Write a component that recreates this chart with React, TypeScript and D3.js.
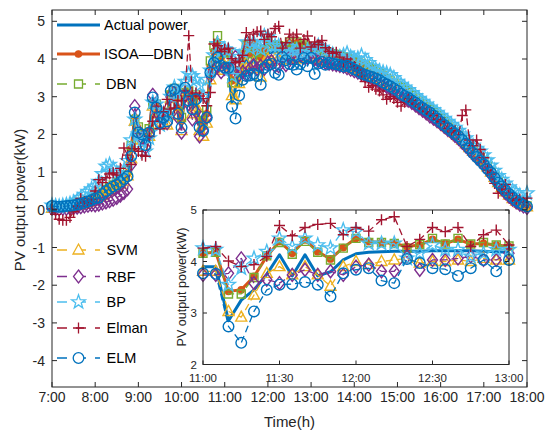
import React from "react";
import * as d3 from "d3";

// 5-minute samples from 7:00 to 18:00 (133 points)
const START_HOUR = 7;
const STEP_MIN = 5;

const ACTUAL = [
  0.05, 0.06, 0.07, 0.08, 0.08, 0.10, 0.12, 0.14, 0.16, 0.19, 0.22, 0.26, 0.30,
  0.35, 0.40, 0.46, 0.52, 0.58, 0.64, 0.70, 0.78, 0.88, 1.45, 2.50,
  2.05, 1.95, 1.75, 2.05, 2.95, 2.70, 2.35, 2.45, 2.40, 3.15, 3.20, 2.60,
  2.25, 3.20, 3.00, 2.70, 2.95, 2.20, 2.05, 2.45, 3.65, 3.95, 4.10, 3.85,
  3.90, 3.90, 2.85, 3.25, 3.45, 3.75, 4.13, 3.72, 4.13, 3.72, 3.80, 4.03,
  4.15, 4.18, 4.19, 4.20, 4.20, 4.20, 4.21, 4.21, 4.21, 4.21, 4.20, 4.19, 4.18,
  4.15, 4.12, 4.10, 4.07, 4.05, 4.02, 4.00, 3.98, 3.95, 3.92, 3.88, 3.85,
  3.80, 3.76, 3.72, 3.68, 3.62, 3.56, 3.50, 3.44, 3.38, 3.32, 3.26, 3.20,
  3.14, 3.08, 3.02, 2.95, 2.88, 2.80, 2.72, 2.65, 2.58, 2.50, 2.43, 2.33,
  2.25, 2.16, 2.07, 1.98, 1.88, 1.78, 1.68, 1.58, 1.49, 1.41, 1.33, 1.25,
  1.10, 0.97, 0.83, 0.68, 0.56, 0.46, 0.37, 0.29, 0.22, 0.16, 0.11, 0.08,
];

const ISOA_DBN = [
  0.06, 0.07, 0.08, 0.09, 0.10, 0.12, 0.14, 0.16, 0.18, 0.21, 0.25, 0.29, 0.33,
  0.38, 0.44, 0.50, 0.56, 0.62, 0.69, 0.76, 0.85, 0.98, 1.62, 2.45,
  2.12, 1.98, 1.82, 2.10, 2.88, 2.75, 2.42, 2.50, 2.48, 3.10, 3.18, 2.70,
  2.35, 3.15, 3.05, 2.80, 3.00, 2.35, 2.20, 2.55, 3.80, 4.20, 4.45, 4.05,
  4.16, 4.18, 3.42, 3.45, 3.71, 4.10, 4.39, 4.16, 4.42, 4.19, 4.05, 4.27,
  4.45, 4.39, 4.37, 4.35, 4.29, 4.32, 4.43, 4.35, 4.43, 4.34, 4.35, 4.32, 4.29,
  4.27, 4.24, 4.22, 4.18, 4.15, 4.12, 4.10, 4.08, 4.05, 4.01, 3.98, 3.94,
  3.90, 3.86, 3.81, 3.76, 3.71, 3.65, 3.58, 3.52, 3.46, 3.40, 3.33, 3.27,
  3.21, 3.15, 3.08, 3.01, 2.94, 2.86, 2.78, 2.71, 2.63, 2.55, 2.47, 2.40,
  2.31, 2.22, 2.13, 2.04, 1.94, 1.84, 1.73, 1.63, 1.54, 1.45, 1.36, 1.28,
  1.14, 1.00, 0.86, 0.72, 0.60, 0.49, 0.40, 0.31, 0.24, 0.18, 0.13, 0.09,
];

const DBN = [
  0.07, 0.08, 0.09, 0.10, 0.11, 0.13, 0.15, 0.17, 0.20, 0.23, 0.27, 0.31, 0.36,
  0.41, 0.47, 0.54, 0.60, 0.66, 0.73, 0.80, 0.90, 1.05, 1.70, 2.40,
  2.20, 2.02, 1.90, 2.15, 2.80, 2.80, 2.50, 2.55, 2.58, 3.05, 3.22, 2.80,
  2.45, 3.10, 3.15, 2.90, 3.05, 2.50, 2.35, 2.65, 3.95, 4.35, 4.62, 4.15,
  4.16, 4.18, 3.37, 3.37, 3.69, 4.11, 4.37, 4.14, 4.39, 4.18, 4.03, 4.26,
  4.45, 4.37, 4.37, 4.35, 4.26, 4.33, 4.45, 4.34, 4.45, 4.34, 4.37, 4.32, 4.30,
  4.30, 4.27, 4.25, 4.20, 4.18, 4.14, 4.12, 4.10, 4.06, 4.03, 3.99, 3.95,
  3.92, 3.88, 3.84, 3.78, 3.73, 3.67, 3.61, 3.55, 3.48, 3.42, 3.36, 3.30,
  3.24, 3.17, 3.11, 3.04, 2.97, 2.89, 2.81, 2.73, 2.66, 2.58, 2.50, 2.42,
  2.34, 2.25, 2.16, 2.07, 1.97, 1.87, 1.77, 1.66, 1.56, 1.47, 1.38, 1.30,
  1.16, 1.02, 0.88, 0.74, 0.62, 0.51, 0.41, 0.33, 0.25, 0.19, 0.14, 0.10,
];

const SVM = [
  0.04, 0.05, 0.06, 0.06, 0.07, 0.09, 0.11, 0.12, 0.14, 0.17, 0.20, 0.24, 0.28,
  0.33, 0.38, 0.44, 0.50, 0.56, 0.62, 0.68, 0.76, 0.90, 1.35, 2.35,
  2.00, 1.85, 1.70, 1.95, 2.75, 2.55, 2.25, 2.30, 2.25, 2.95, 3.05, 2.50,
  2.10, 3.00, 2.85, 2.55, 2.75, 2.10, 1.95, 2.30, 3.45, 3.75, 3.90, 3.70,
  3.81, 3.81, 3.03, 2.92, 3.35, 3.77, 3.90, 3.74, 3.90, 3.74, 3.52, 3.90,
  4.00, 3.94, 4.00, 4.03, 4.06, 3.97, 4.00, 4.00, 4.03, 4.00, 4.06, 4.03, 4.03,
  4.01, 3.98, 3.96, 3.93, 3.91, 3.88, 3.86, 3.84, 3.81, 3.79, 3.76, 3.72,
  3.69, 3.65, 3.61, 3.57, 3.53, 3.48, 3.42, 3.37, 3.31, 3.25, 3.20, 3.14,
  3.08, 3.02, 2.97, 2.91, 2.84, 2.77, 2.70, 2.63, 2.56, 2.49, 2.42, 2.35,
  2.27, 2.19, 2.11, 2.03, 1.94, 1.85, 1.75, 1.65, 1.55, 1.46, 1.37, 1.28,
  1.14, 1.00, 0.86, 0.72, 0.59, 0.48, 0.39, 0.30, 0.23, 0.17, 0.12, 0.08,
];

const RBF = [
  0.03, 0.02, 0.02, 0.03, 0.03, 0.04, 0.05, 0.06, 0.07, 0.09, 0.11, 0.13, 0.12,
  0.14, 0.17, 0.20, 0.23, 0.27, 0.32, 0.38, 0.45, 0.55, 1.20, 2.75,
  2.10, 1.90, 1.65, 2.00, 3.05, 2.60, 2.30, 2.40, 2.30, 3.00, 3.10, 2.45,
  2.05, 3.05, 2.80, 2.40, 2.60, 1.95, 2.10, 2.45, 3.55, 3.70, 3.80, 3.65,
  3.74, 3.74, 3.77, 4.06, 3.58, 3.65, 3.58, 3.74, 3.84, 3.74, 3.81, 3.74,
  3.90, 3.94, 3.81, 3.81, 4.10, 3.84, 4.03, 4.03, 4.06, 4.10, 4.03, 4.03, 4.16,
  4.00, 3.95, 3.93, 3.90, 3.88, 3.86, 3.84, 3.82, 3.80, 3.76, 3.72, 3.68,
  3.64, 3.60, 3.56, 3.52, 3.47, 3.42, 3.37, 3.31, 3.26, 3.20, 3.14, 3.08,
  3.02, 2.96, 2.90, 2.84, 2.77, 2.70, 2.63, 2.56, 2.48, 2.42, 2.35, 2.28,
  2.20, 2.12, 2.05, 1.96, 1.88, 1.78, 1.68, 1.58, 1.48, 1.38, 1.29, 1.20,
  1.06, 0.93, 0.80, 0.67, 0.55, 0.44, 0.35, 0.27, 0.20, 0.14, 0.09, 0.05,
];

const BP = [
  0.12, 0.10, 0.09, 0.11, 0.13, 0.16, 0.20, 0.25, 0.32, 0.40, 0.48, 0.55, 0.62,
  0.75, 0.95, 1.15, 1.20, 1.10, 0.98, 0.92, 1.05, 1.30, 1.85, 2.40,
  2.00, 1.80, 1.55, 1.90, 2.85, 2.80, 2.25, 2.55, 2.50, 3.00, 3.25, 2.90,
  3.25, 3.40, 3.60, 3.55, 3.45, 3.30, 3.00, 3.45, 3.70, 4.10, 4.40, 4.20,
  4.26, 4.23, 3.55, 3.87, 4.06, 4.19, 4.45, 4.29, 4.45, 4.32, 4.26, 4.61,
  4.58, 4.35, 4.35, 4.35, 4.06, 4.16, 4.32, 4.23, 4.23, 4.10, 4.16, 4.23, 4.23,
  4.28, 4.35, 4.30, 4.22, 4.15, 4.12, 4.08, 4.05, 4.10, 4.15, 4.05, 4.00,
  4.02, 4.09, 3.98, 3.90, 3.80, 3.72, 3.68, 3.65, 3.62, 3.58, 3.50, 3.40,
  3.32, 3.25, 3.18, 3.10, 3.02, 2.95, 2.87, 2.80, 2.72, 2.65, 2.58, 2.50,
  2.42, 2.34, 2.26, 2.18, 2.10, 2.00, 1.90, 1.80, 1.70, 1.62, 1.55, 1.45,
  1.32, 1.18, 1.04, 0.90, 0.80, 0.70, 0.60, 0.50, 0.45, 0.38, 0.30, 0.44,
];

const ELMAN = [
  0.02, -0.12, -0.25, -0.28, -0.28, -0.20, -0.05, 0.10, 0.30, 0.22, 0.18, 0.28, 0.50,
  0.80, 0.72, 0.85, 0.95, 0.98, 0.92, 1.10, 1.64, 1.45, 1.20, 1.62,
  1.55, 1.45, 1.42, 1.95, 2.35, 2.75, 2.15, 2.60, 2.93, 2.67, 2.70, 2.90,
  2.89, 3.15, 4.62, 3.02, 3.10, 3.02, 2.95, 2.76, 3.11, 4.40, 4.35, 4.20,
  4.26, 4.29, 4.01, 3.90, 3.94, 4.10, 4.70, 4.50, 4.66, 4.72, 4.74, 4.52,
  4.66, 4.59, 4.81, 4.87, 4.29, 4.43, 4.66, 4.58, 4.66, 4.29, 4.52, 4.61, 4.32,
  4.45, 4.38, 4.49, 4.30, 4.20, 4.15, 4.18, 4.05, 3.92, 4.00, 3.90, 3.80,
  3.70, 3.55, 3.40, 3.25, 3.30, 3.20, 3.15, 3.05, 2.93, 3.00, 2.95, 2.85,
  2.75, 2.85, 2.95, 2.90, 2.80, 2.72, 2.68, 2.60, 2.55, 2.50, 2.40, 2.35,
  2.30, 2.15, 2.05, 2.10, 2.00, 2.50, 2.65, 1.85, 1.70, 1.85, 1.60, 1.38,
  1.05, 0.95, 0.70, 0.44, 0.55, 0.67, 0.45, 0.30, 0.25, 0.28, 0.20, 0.31,
];

const ELM = [
  0.10, 0.09, 0.08, 0.09, 0.10, 0.11, 0.12, 0.14, 0.16, 0.19, 0.22, 0.26, 0.30,
  0.32, 0.42, 0.49, 0.56, 0.62, 0.67, 0.74, 0.82, 0.89, 1.42, 2.58,
  2.05, 2.00, 1.71, 2.05, 2.98, 2.71, 2.30, 2.45, 2.35, 3.15, 3.20, 2.55,
  2.18, 3.24, 2.90, 2.67, 2.93, 2.19, 2.10, 2.45, 3.64, 3.90, 4.04, 3.82,
  3.77, 3.76, 2.74, 2.42, 3.03, 3.45, 3.55, 3.56, 3.60, 3.55, 3.32, 3.77,
  3.84, 3.87, 3.63, 3.58, 4.05, 3.97, 3.87, 3.85, 3.72, 3.87, 4.03, 3.81, 4.03,
  3.60, 3.88, 3.92, 3.85, 3.90, 3.88, 3.86, 3.84, 3.80, 3.82, 3.78, 3.72,
  3.68, 3.62, 3.58, 3.55, 3.52, 3.48, 3.44, 3.38, 3.33, 3.28, 3.22, 3.16,
  3.08, 3.02, 2.97, 2.90, 2.84, 2.77, 2.70, 2.64, 2.58, 2.50, 2.42, 2.33,
  2.25, 2.17, 2.09, 2.02, 1.95, 1.85, 1.75, 1.63, 1.51, 1.40, 1.30, 1.20,
  1.08, 0.98, 0.85, 0.72, 0.62, 0.52, 0.42, 0.33, 0.25, 0.18, 0.13, 0.09,
];

const X_TICKS = [7, 8, 9, 10, 11, 12, 13, 14, 15, 16, 17, 18];
const Y_TICKS = [-4, -3, -2, -1, 0, 1, 2, 3, 4, 5];
const INSET_X_TICKS = [11, 11.5, 12, 12.5, 13];
const INSET_Y_TICKS = [2, 3, 4, 5];

type Mk = "none" | "dot" | "square" | "triangle" | "diamond" | "star" | "plus" | "circle";
type S = { name: string; values: number[]; color: string; width: number; dash: string | null; marker: Mk };

const SERIES: S[] = [
  { name: "Actual power", values: ACTUAL, color: "#0072BD", width: 3, dash: null, marker: "none" },
  { name: "ISOA\u2014DBN", values: ISOA_DBN, color: "#D95319", width: 3, dash: null, marker: "dot" },
  { name: "DBN", values: DBN, color: "#77AC30", width: 1.3, dash: "7,4", marker: "square" },
  { name: "SVM", values: SVM, color: "#EDB120", width: 1.3, dash: "7,4", marker: "triangle" },
  { name: "RBF", values: RBF, color: "#7E2F8E", width: 1.3, dash: "7,4", marker: "diamond" },
  { name: "BP", values: BP, color: "#4DBEEE", width: 1.3, dash: "7,4", marker: "star" },
  { name: "Elman", values: ELMAN, color: "#A2142F", width: 1.3, dash: "7,4", marker: "plus" },
  { name: "ELM", values: ELM, color: "#0072BD", width: 1.3, dash: "7,4", marker: "circle" },
];

const FONT = "'Liberation Sans', Arial, Helvetica, sans-serif";
const AX = "#262626";
const hourOf = (i: number) => START_HOUR + (i * STEP_MIN) / 60;
const fmtTime = (h: number) => `${Math.floor(h)}:${String(Math.round((h % 1) * 60)).padStart(2, "0")}`;

function markerPath(type: Mk, x: number, y: number): string {
  switch (type) {
    case "circle":
      return `M${x + 5.3},${y}A5.3,5.3 0 1,1 ${x - 5.3},${y}A5.3,5.3 0 1,1 ${x + 5.3},${y}Z`;
    case "dot":
      return `M${x + 3.2},${y}A3.2,3.2 0 1,1 ${x - 3.2},${y}A3.2,3.2 0 1,1 ${x + 3.2},${y}Z`;
    case "square":
      return `M${x - 4},${y - 4}h8v8h-8Z`;
    case "triangle":
      return `M${x},${y - 6}L${x + 5.5},${y + 4}L${x - 5.5},${y + 4}Z`;
    case "diamond":
      return `M${x},${y - 6.5}L${x + 5},${y}L${x},${y + 6.5}L${x - 5},${y}Z`;
    case "plus":
      return `M${x - 5.5},${y}H${x + 5.5}M${x},${y - 5.5}V${y + 5.5}`;
    case "star": {
      const pts: string[] = [];
      for (let k = 0; k < 10; k++) {
        const r = k % 2 === 0 ? 7.2 : 2.9;
        const a = -Math.PI / 2 + (k * Math.PI) / 5;
        pts.push(`${(x + r * Math.cos(a)).toFixed(2)},${(y + r * Math.sin(a)).toFixed(2)}`);
      }
      return `M${pts.join("L")}Z`;
    }
    default:
      return "";
  }
}

const markerFill = (s: S) => (s.marker === "dot" ? s.color : "none");

function Plot({ x, y, from, to }: { x: d3.ScaleLinear<number, number>; y: d3.ScaleLinear<number, number>; from: number; to: number }) {
  return (
    <g>
      {SERIES.map((s) => {
        const idx = d3.range(from, to + 1);
        const line = d3.line<number>().x((i) => x(hourOf(i))).y((i) => y(s.values[i]));
        const mk = idx.map((i) => markerPath(s.marker, x(hourOf(i)), y(s.values[i]))).join("");
        return (
          <g key={s.name}>
            <path d={line(idx) || ""} fill="none" stroke={s.color} strokeWidth={s.width}
              strokeDasharray={s.dash || undefined} strokeLinejoin="round" />
            {mk && <path d={mk} fill={markerFill(s)} stroke={s.color} strokeWidth={1.4} />}
          </g>
        );
      })}
    </g>
  );
}

function LegendRow({ s, x, y, tx }: { s: S; x: number; y: number; tx: number }) {
  return (
    <g>
      <line x1={x} x2={x + 43} y1={y} y2={y} stroke={s.color} strokeWidth={s.width}
        strokeDasharray={s.dash ? "10,9" : undefined} />
      {s.marker !== "none" && (
        <path d={markerPath(s.marker, x + 21.5, y)} fill={s.marker === "dot" ? s.color : "white"}
          stroke={s.color} strokeWidth={1.3} />
      )}
      <text x={tx} y={y} dy="0.36em" fontSize={14.5} fill="#000" fontFamily={FONT}>{s.name}</text>
    </g>
  );
}

export default function App() {
  const W = 545, H = 432;
  const x = d3.scaleLinear().domain([7, 18]).range([52, 527]);
  const y = d3.scaleLinear().domain([-4.7, 5.3]).range([387, 10]);
  const ix = d3.scaleLinear().domain([11, 13]).range([203, 509]);
  const iy = d3.scaleLinear().domain([2, 5]).range([364.5, 210]);
  const n = ACTUAL.length;
  const i0 = Math.round((11 - START_HOUR) * 60 / STEP_MIN);
  const i1 = Math.round((13 - START_HOUR) * 60 / STEP_MIN);

  const upperRows = [25, 54, 84];
  const lowerRows = [250, 276.5, 302, 328, 358];

  return (
    <svg width={W} height={H} style={{ position: "absolute", left: 0, top: 0, background: "#fff" }} fontFamily={FONT}>
      <rect width={W} height={H} fill="#fff" />
      {/* main plot */}
      <Plot x={x} y={y} from={0} to={n - 1} />
      <rect x={52} y={10} width={475} height={377} fill="none" stroke={AX} strokeWidth={1} />
      {X_TICKS.map((t) => (
        <g key={"xt" + t}>
          <line x1={x(t)} x2={x(t)} y1={387} y2={382} stroke={AX} />
          <line x1={x(t)} x2={x(t)} y1={10} y2={15} stroke={AX} />
          <text x={x(t)} y={402} textAnchor="middle" fontSize={14} fill={AX}>{fmtTime(t)}</text>
        </g>
      ))}
      {Y_TICKS.map((t) => (
        <g key={"yt" + t}>
          <line x1={52} x2={57} y1={y(t)} y2={y(t)} stroke={AX} />
          <line x1={527} x2={522} y1={y(t)} y2={y(t)} stroke={AX} />
          <text x={45} y={y(t)} dy="0.36em" textAnchor="end" fontSize={14} fill={AX}>{t}</text>
        </g>
      ))}
      <text x={289.5} y={427} textAnchor="middle" fontSize={15} fill={AX}>Time(h)</text>
      <text transform="translate(25,200) rotate(-90)" textAnchor="middle" fontSize={15} fill={AX}>PV output power(kW)</text>

      {/* legends */}
      {SERIES.slice(0, 3).map((s, k) => (
        <LegendRow key={s.name} s={s} x={57} y={upperRows[k]} tx={k === 2 ? 106 : 104} />
      ))}
      {SERIES.slice(3).map((s, k) => (
        <LegendRow key={s.name} s={s} x={57} y={lowerRows[k]} tx={106.5} />
      ))}

      {/* inset */}
      <rect x={203} y={210} width={306} height={154.5} fill="#fff" />
      <Plot x={ix} y={iy} from={i0} to={i1} />
      <rect x={203} y={210} width={306} height={154.5} fill="none" stroke={AX} strokeWidth={1} />
      {INSET_X_TICKS.map((t) => (
        <g key={"ixt" + t}>
          <line x1={ix(t)} x2={ix(t)} y1={364.5} y2={360.5} stroke={AX} />
          <line x1={ix(t)} x2={ix(t)} y1={210} y2={214} stroke={AX} />
          <text x={ix(t)} y={381.5} textAnchor="middle" fontSize={11.5} fill={AX}>{fmtTime(t)}</text>
        </g>
      ))}
      {INSET_Y_TICKS.map((t) => (
        <g key={"iyt" + t}>
          <line x1={203} x2={207} y1={iy(t)} y2={iy(t)} stroke={AX} />
          <line x1={509} x2={505} y1={iy(t)} y2={iy(t)} stroke={AX} />
          <text x={197} y={iy(t)} dy="0.36em" textAnchor="end" fontSize={11.5} fill={AX}>{t}</text>
        </g>
      ))}
      <text transform="translate(186,287) rotate(-90)" textAnchor="middle" fontSize={12.5} fill={AX}>PV output power(kW)</text>
    </svg>
  );
}
